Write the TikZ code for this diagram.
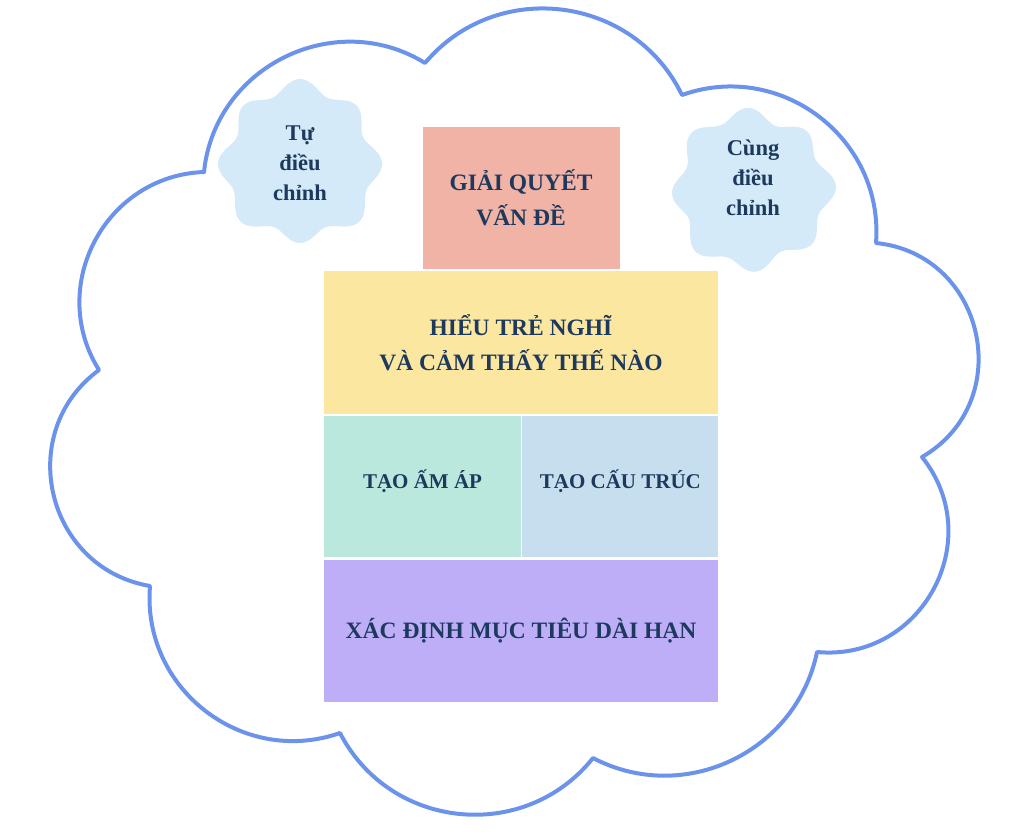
\documentclass[tikz,border=0pt]{standalone}
\usepackage{fontspec}
\setmainfont{Liberation Serif}
\usepackage{tikz}
\usetikzlibrary{positioning}
\definecolor{ink}{HTML}{1D3A5E}
\definecolor{cloudline}{HTML}{6B93EC}
\definecolor{blobfill}{HTML}{D5EAF8}
\definecolor{solvefill}{HTML}{F1B3A5}
\definecolor{understandfill}{HTML}{FCE7A1}
\definecolor{warmfill}{HTML}{BBE8DC}
\definecolor{structfill}{HTML}{C6DEED}
\definecolor{goalfill}{HTML}{BDAEF7}

\begin{document}
\begin{tikzpicture}[
    x=1pt, y=-1pt,
    node distance=2pt,
    block/.style={rectangle, inner sep=0pt, align=center, text=ink, font=\fontsize{23.5}{35}\selectfont\bfseries},
    small/.style={font=\fontsize{21}{30}\selectfont\bfseries, text depth=16pt},
    blobtext/.style={align=center, text=ink, font=\fontsize{22.5}{30}\selectfont\bfseries},
    blob/.style={fill=blobfill, draw=none},
    cloud/.style={draw=cloudline, line width=4pt, line join=round, line cap=round}
  ]
  \useasboundingbox (0,0) rectangle (1024,831);
  % Outer cloud
  \draw[cloud] (204,172) to[bend left=58, looseness=1.1] (425,63)
    to[bend left=57, looseness=1.1] (682,95)
    to[bend left=57, looseness=1.1] (876,243)
    to[bend left=72, looseness=1.29] (922,457)
    to[bend left=67, looseness=1.22] (817,652)
    to[bend left=53, looseness=1.06] (593,758)
    to[bend left=57, looseness=1.1] (340,733)
    to[bend left=57, looseness=1.1] (150,586)
    to[bend left=67, looseness=1.22] (99,370)
    to[bend left=60, looseness=1.13] (204,172);
  % Wavy blobs
  \fill[blob] plot[domain=0:360, samples=240] ({300+(76+6*cos(8*\x)+2*sin(3*\x))*cos(\x)}, {163+(76+6*cos(8*\x)+2*sin(3*\x))*sin(\x)}) -- cycle;
  \fill[blob] plot[domain=0:360, samples=240] ({752+(76+6*cos(8*\x+20)+2*cos(3*\x))*cos(\x)}, {190+(76+6*cos(8*\x+20)+2*cos(3*\x))*sin(\x)}) -- cycle;
  \node[blobtext] (selfreg) at (300,163) {Tự\\điều\\chỉnh};
  \node[blobtext] (coreg) at (753,178) {Cùng\\điều\\chỉnh};
  % Stack of blocks
  \node[block, fill=understandfill, minimum width=394pt, minimum height=143pt] (understand) at (521,342.5) {HIỂU TRẺ NGHĨ\\VÀ CẢM THẤY THẾ NÀO};
  \node[block, fill=solvefill, minimum width=197pt, minimum height=142pt, above=2pt of understand] (solve) {GIẢI QUYẾT\\VẤN ĐỀ};
  \node[block, small, fill=warmfill, minimum width=197pt, minimum height=141pt, below right=2pt and 0pt of understand.south west] (warm) {TẠO ẤM ÁP};
  \node[block, small, fill=structfill, minimum width=196pt, minimum height=141pt, right=1pt of warm] (structure) {TẠO CẤU TRÚC};
  \node[block, fill=goalfill, minimum width=394pt, minimum height=142pt, below right=2pt and 0pt of warm.south west] (goal) {XÁC ĐỊNH MỤC TIÊU DÀI HẠN};
\end{tikzpicture}
\end{document}
